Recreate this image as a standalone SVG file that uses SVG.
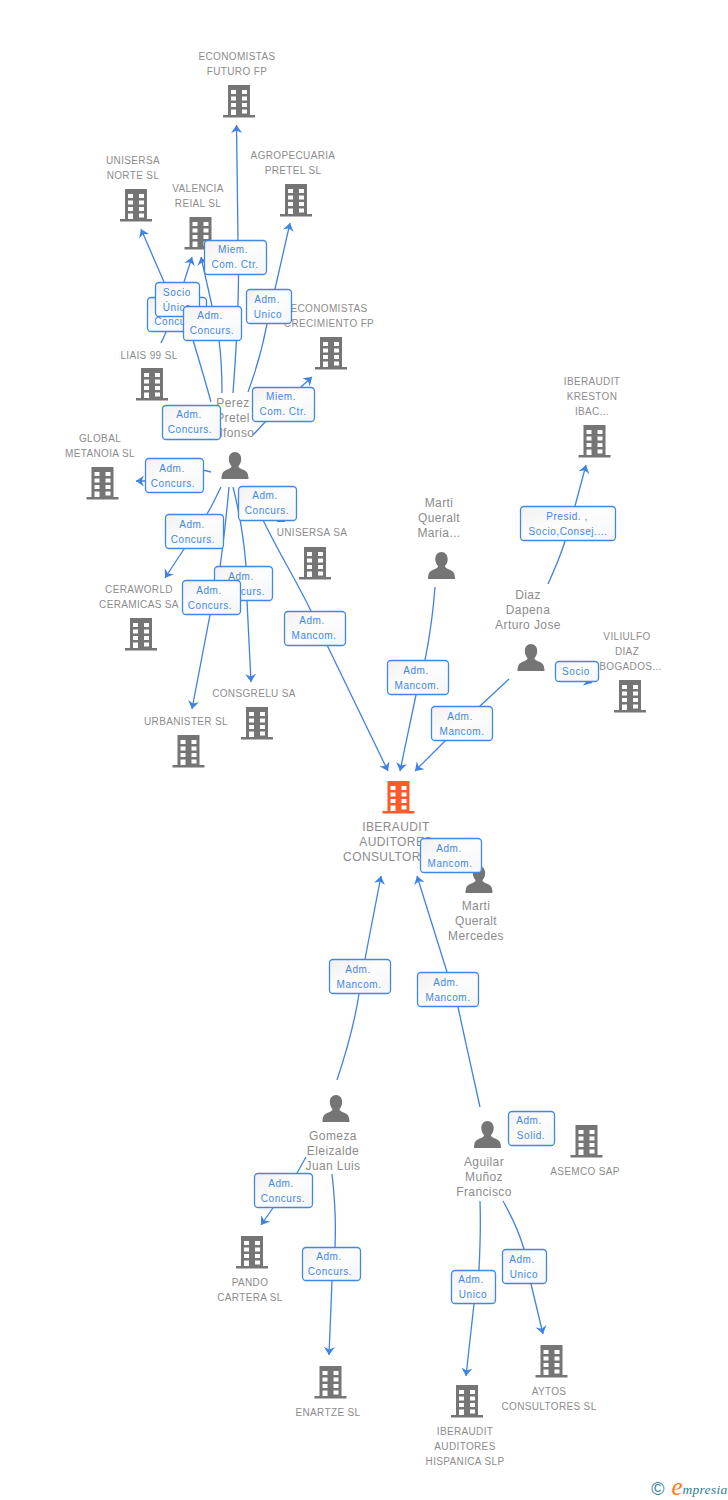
<svg xmlns="http://www.w3.org/2000/svg" xmlns:xlink="http://www.w3.org/1999/xlink" width="728" height="1500" viewBox="0 0 728 1500">
<style>
text{font-family:"Liberation Sans",Arial,sans-serif;text-anchor:middle}
.c{font-size:10px;letter-spacing:.35px;fill:#8c8c8c}
.p{font-size:12px;letter-spacing:.4px;fill:#8c8c8c}
.b{font-size:10px;letter-spacing:.55px;fill:#4287e6}
.l{fill:none;stroke:#3f83e2;stroke-width:1.3;marker-end:url(#ah)}
.r{fill:url(#bg);stroke:#4287e6;stroke-width:1.3}
.g{fill:#757575}.o{fill:#ff5a2c}
</style>
<defs>
<linearGradient id="bg" x1="0" y1="0" x2="1" y2="1"><stop offset="0" stop-color="#f1f1f1"/><stop offset=".5" stop-color="#fdfdfd"/><stop offset="1" stop-color="#f3f5f8"/></linearGradient>
<marker id="ah" markerUnits="userSpaceOnUse" markerWidth="12" markerHeight="12" refX="8" refY="6" orient="auto"><path d="M8 6 L0 .5 L2.500 6 L0 11.500Z" fill="#3f83e2"/></marker>
<path id="bld" fill-rule="evenodd" d="M-11 0H11V30H16V32.500H-16V30H-11ZM-8 5V9H-3V5ZM3 5V9H8V5ZM-8 11.500V15.500H-3V11.500ZM3 11.500V15.500H8V11.500ZM-8 18V22H-3V18ZM3 18V22H8V18ZM-8 24.500V30H-3V24.500ZM3 24.500V28.500H8V24.500Z"/>
<path id="per" d="M0 0C3.800 0 6.200 3 6.200 7C6.200 10 5 12.500 3.500 14C3.500 15.500 4.500 16.200 7 17.200C11 18.800 13.500 20 13.500 27H-13.500C-13.500 20 -11 18.800 -7 17.200C-4.500 16.200 -3.500 15.500 -3.500 14C-5 12.500 -6.200 10 -6.200 7C-6.200 3 -3.800 0 0 0Z"/>
</defs>

<g id="n-economistas-futuro"><use href="#bld" class="g" x="239" y="85"/><text class="c" x="237" y="60">ECONOMISTAS</text><text class="c" x="237" y="75">FUTURO FP</text></g>
<g id="n-unisersa-norte"><use href="#bld" class="g" x="136" y="189"/><text class="c" x="133" y="164">UNISERSA</text><text class="c" x="133" y="179">NORTE SL</text></g>
<g id="n-valencia-reial"><use href="#bld" class="g" x="200.500" y="217"/><text class="c" x="198" y="192">VALENCIA</text><text class="c" x="198" y="207">REIAL SL</text></g>
<g id="n-agropecuaria"><use href="#bld" class="g" x="296" y="184"/><text class="c" x="293" y="159">AGROPECUARIA</text><text class="c" x="293" y="174">PRETEL SL</text></g>
<g id="n-economistas-crecimiento"><use href="#bld" class="g" x="331" y="337"/><text class="c" x="329" y="312">ECONOMISTAS</text><text class="c" x="329" y="327">CRECIMIENTO FP</text></g>
<g id="n-liais"><use href="#bld" class="g" x="152" y="368"/><text class="c" x="149" y="359">LIAIS 99 SL</text></g>
<g id="n-global"><use href="#bld" class="g" x="102.500" y="467"/><text class="c" x="100" y="442">GLOBAL</text><text class="c" x="100" y="457">METANOIA SL</text></g>
<g id="n-unisersa-sa"><use href="#bld" class="g" x="315" y="547"/><text class="c" x="312" y="536">UNISERSA SA</text></g>
<g id="n-ceraworld"><use href="#bld" class="g" x="141" y="618"/><text class="c" x="139" y="593">CERAWORLD</text><text class="c" x="139" y="608">CERAMICAS SA</text></g>
<g id="n-consgrelu"><use href="#bld" class="g" x="257" y="707"/><text class="c" x="254" y="697">CONSGRELU SA</text></g>
<g id="n-urbanister"><use href="#bld" class="g" x="188.500" y="735"/><text class="c" x="186" y="725">URBANISTER SL</text></g>
<g id="n-kreston"><use href="#bld" class="g" x="594.500" y="425"/><text class="c" x="592" y="385">IBERAUDIT</text><text class="c" x="592" y="400">KRESTON</text><text class="c" x="592" y="415">IBAC...</text></g>
<g id="n-viliulfo"><use href="#bld" class="g" x="630" y="680"/><text class="c" x="627" y="640">VILIULFO</text><text class="c" x="627" y="655">DIAZ</text><text class="c" x="627" y="670">ABOGADOS...</text></g>
<g id="n-center"><use href="#bld" class="o" x="398.500" y="781"/><text class="p" x="396" y="831">IBERAUDIT</text><text class="p" x="396" y="846">AUDITORES</text><text class="p" x="396" y="861">CONSULTORES...</text></g>
<g id="n-asemco"><use href="#bld" class="g" x="586.500" y="1125"/><text class="c" x="585" y="1175">ASEMCO SAP</text></g>
<g id="n-aytos"><use href="#bld" class="g" x="551.500" y="1345"/><text class="c" x="549" y="1395">AYTOS</text><text class="c" x="549" y="1410">CONSULTORES SL</text></g>
<g id="n-hispanica"><use href="#bld" class="g" x="467" y="1385"/><text class="c" x="465" y="1435">IBERAUDIT</text><text class="c" x="465" y="1450">AUDITORES</text><text class="c" x="465" y="1465">HISPANICA SLP</text></g>
<g id="n-pando"><use href="#bld" class="g" x="252" y="1236"/><text class="c" x="250" y="1286">PANDO</text><text class="c" x="250" y="1301">CARTERA SL</text></g>
<g id="n-enartze"><use href="#bld" class="g" x="330.500" y="1366"/><text class="c" x="328" y="1416">ENARTZE SL</text></g>

<g id="n-perez"><use href="#per" class="g" x="235" y="452"/><text class="p" x="233" y="407">Perez</text><text class="p" x="233" y="422">Pretel</text><text class="p" x="233" y="437">Alfonso</text></g>
<g id="n-marti-maria"><use href="#per" class="g" x="441.500" y="552"/><text class="p" x="439" y="507">Marti</text><text class="p" x="439" y="522">Queralt</text><text class="p" x="439" y="537">Maria...</text></g>
<g id="n-diaz"><use href="#per" class="g" x="531" y="644"/><text class="p" x="528" y="599">Diaz</text><text class="p" x="528" y="614">Dapena</text><text class="p" x="528" y="629">Arturo Jose</text></g>
<g id="n-marti-mercedes"><use href="#per" class="g" x="479" y="866"/><text class="p" x="476" y="910">Marti</text><text class="p" x="476" y="925">Queralt</text><text class="p" x="476" y="940">Mercedes</text></g>
<g id="n-gomeza"><use href="#per" class="g" x="336" y="1095"/><text class="p" x="333" y="1140">Gomeza</text><text class="p" x="333" y="1155">Eleizalde</text><text class="p" x="333" y="1170">Juan Luis</text></g>
<g id="n-aguilar"><use href="#per" class="g" x="487.500" y="1121"/><text class="p" x="484" y="1166">Aguilar</text><text class="p" x="484" y="1181">Muñoz</text><text class="p" x="484" y="1196">Francisco</text></g>

<g id="connectors">
<path class="l" d="M233 393C237 340 240 290 238 240L236.500 125"/>
<path class="l" d="M248 392C258 365 264 340 267 324L275 289L290 223"/>
<path class="l" d="M253 435L266 421L301 387L312 377"/>
<path class="l" d="M222 393C222 370 221 355 219 340L212 306L201 257"/>
<path class="l" d="M161 343L173 317L184 282L192 257"/>
<path class="l" d="M211 402C205 380 199 360 193 340L164 282L141 229"/>
<path class="l" d="M211 472L203 470L145 481L136 481"/>
<path class="l" d="M221 487C216 497 212 506 207 514L184 549L165 578"/>
<path class="l" d="M229 487C226 520 222 555 218 580L210 615L192 709"/>
<path class="l" d="M233 487C240 515 244 540 246 566L247 601L251 682"/>
<path class="l" d="M263 520C280 555 296 580 311 611L327 645L388 771"/>
<path class="l" d="M435 587C433 615 430 635 425 660L416 695L400 771"/>
<path class="l" d="M509 679L480 706L445 741L415 771"/>
<path class="l" d="M548 584C556 566 561 555 565 541L575 506L586 465"/>
<path class="l" d="M575 677L592 683"/>
<path class="l" d="M337 1080C347 1050 355 1020 359 994L365 959L381 876"/>
<path class="l" d="M480 1107C472 1070 465 1040 458 1007L447 972L417 876"/>
<path class="l" d="M306 1157L297 1173L273 1208L261 1225"/>
<path class="l" d="M332 1174C335 1200 336 1225 335 1247L332 1281L329 1355"/>
<path class="l" d="M480 1201C481 1230 480 1250 479 1270L474 1304L466 1376"/>
<path class="l" d="M503 1201C512 1217 519 1232 524 1249L531 1284L543 1334"/>
<path d="M277 520H285V522H277Z" fill="#3f83e2"/>

<g id="e1"><rect class="r" x="147.500" y="297.500" width="59" height="34" rx="3.500"/><text class="b" x="176.500" y="310">Adm.</text><text class="b" x="176.500" y="325">Concurs.</text></g>
<g id="e2"><rect class="r" x="155.500" y="282.500" width="44" height="34" rx="3.500"/><text class="b" x="177" y="296">Socio</text><text class="b" x="177" y="311">Único</text></g>
<g id="e3"><rect class="r" x="204.500" y="240.500" width="62" height="34" rx="3.500"/><text class="b" x="233" y="253">Miem.</text><text class="b" x="235" y="268">Com. Ctr.</text></g>
<g id="e4"><rect class="r" x="183.500" y="306.500" width="58" height="34" rx="3.500"/><text class="b" x="210" y="319">Adm.</text><text class="b" x="212" y="334">Concurs.</text></g>
<g id="e5"><rect class="r" x="246.500" y="289.500" width="45" height="34" rx="3.500"/><text class="b" x="267" y="303">Adm.</text><text class="b" x="268" y="318">Unico</text></g>
<g id="e6"><rect class="r" x="252.500" y="387.500" width="62" height="34" rx="3.500"/><text class="b" x="281" y="400">Miem.</text><text class="b" x="283" y="415">Com. Ctr.</text></g>
<g id="e7"><rect class="r" x="162.500" y="405.500" width="58" height="34" rx="3.500"/><text class="b" x="189" y="418">Adm.</text><text class="b" x="190" y="433">Concurs.</text></g>
<g id="e8"><rect class="r" x="145.500" y="458.500" width="58" height="34" rx="3.500"/><text class="b" x="172" y="472">Adm.</text><text class="b" x="173" y="487">Concurs.</text></g>
<g id="e9"><rect class="r" x="238.500" y="486.500" width="58" height="34" rx="3.500"/><text class="b" x="265" y="499">Adm.</text><text class="b" x="267" y="514">Concurs.</text></g>
<g id="e10"><rect class="r" x="165.500" y="514.500" width="58" height="34" rx="3.500"/><text class="b" x="192" y="528">Adm.</text><text class="b" x="193" y="543">Concurs.</text></g>
<g id="e11"><rect class="r" x="214.500" y="566.500" width="58" height="34" rx="3.500"/><text class="b" x="241" y="580">Adm.</text><text class="b" x="243" y="595">Concurs.</text></g>
<g id="e12"><rect class="r" x="182.500" y="580.500" width="58" height="34" rx="3.500"/><text class="b" x="209" y="594">Adm.</text><text class="b" x="210" y="609">Concurs.</text></g>
<g id="e13"><rect class="r" x="284.500" y="611.500" width="61" height="34" rx="3.500"/><text class="b" x="312" y="624">Adm.</text><text class="b" x="314" y="639">Mancom.</text></g>
<g id="e14"><rect class="r" x="387.500" y="660.500" width="61" height="34" rx="3.500"/><text class="b" x="416" y="674">Adm.</text><text class="b" x="417" y="689">Mancom.</text></g>
<g id="e15"><rect class="r" x="431.500" y="706.500" width="61" height="34" rx="3.500"/><text class="b" x="460" y="720">Adm.</text><text class="b" x="462" y="735">Mancom.</text></g>
<g id="e16"><rect class="r" x="520.500" y="506.500" width="95" height="34" rx="3.500"/><text class="b" x="567" y="520">Presid. ,</text><text class="b" x="568" y="535">Socio,Consej....</text></g>
<g id="e17"><rect class="r" x="555.500" y="661.500" width="43" height="20" rx="3.500"/><text class="b" x="576" y="675">Socio</text></g>
<g id="e18"><rect class="r" x="420.500" y="838.500" width="61" height="34" rx="3.500"/><text class="b" x="449" y="852">Adm.</text><text class="b" x="450" y="867">Mancom.</text></g>
<g id="e19"><rect class="r" x="329.500" y="959.500" width="61" height="34" rx="3.500"/><text class="b" x="358" y="973">Adm.</text><text class="b" x="359" y="988">Mancom.</text></g>
<g id="e20"><rect class="r" x="417.500" y="972.500" width="61" height="34" rx="3.500"/><text class="b" x="446" y="986">Adm.</text><text class="b" x="448" y="1001">Mancom.</text></g>
<g id="e21"><rect class="r" x="254.500" y="1173.500" width="58" height="34" rx="3.500"/><text class="b" x="281" y="1187">Adm.</text><text class="b" x="283" y="1202">Concurs.</text></g>
<g id="e22"><rect class="r" x="302.500" y="1247.500" width="58" height="33" rx="3.500"/><text class="b" x="329" y="1260">Adm.</text><text class="b" x="330" y="1275">Concurs.</text></g>
<g id="e23"><rect class="r" x="508.500" y="1111.500" width="46" height="34" rx="3.500"/><text class="b" x="529" y="1124">Adm.</text><text class="b" x="531" y="1139">Solid.</text></g>
<g id="e24"><rect class="r" x="502.500" y="1249.500" width="44" height="34" rx="3.500"/><text class="b" x="522" y="1263">Adm.</text><text class="b" x="524" y="1278">Unico</text></g>
<g id="e25"><rect class="r" x="451.500" y="1270.500" width="44" height="33" rx="3.500"/><text class="b" x="471" y="1283">Adm.</text><text class="b" x="473" y="1298">Unico</text></g>
</g>

<g id="logo"><text x="658" y="1495" style="font-size:18px;fill:#3d8096">©</text><text x="677" y="1495" style="font-family:'Liberation Serif',serif;font-style:italic;font-size:25px;fill:#f57c16">e</text><text x="705" y="1494" style="font-family:'Liberation Serif',serif;font-style:italic;font-size:13.500px;letter-spacing:.3px;fill:#2f7c93">mpresia</text></g>
</svg>
